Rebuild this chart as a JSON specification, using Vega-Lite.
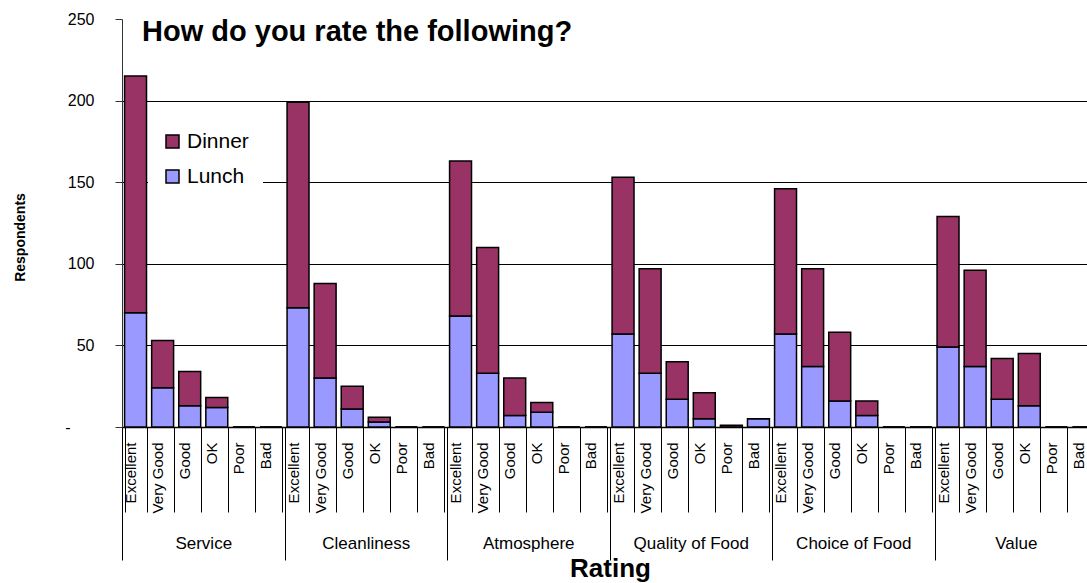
{
  "$schema": "https://vega.github.io/schema/vega-lite/v6.json",
  "autosize": {"type": "none"},
  "padding": {"left": 122, "top": 19, "right": 0, "bottom": 156},
  "width": 965,
  "height": 408,
  "background": "white",
  "config": {"font": "Liberation Sans", "view": {"stroke": null}},
  "title": {
    "text": "How do you rate the following?",
    "anchor": "start",
    "frame": "group",
    "offset": -59,
    "dx": 20,
    "font": "Liberation Sans",
    "fontSize": 29,
    "fontWeight": "bold",
    "color": "black",
    "baseline": "alphabetic"
  },
  "data": {
    "values": [
      {"cat": "Service", "rating": "Excellent", "slot": "Service|Excellent", "meal": "Lunch", "n": 70},
      {"cat": "Service", "rating": "Excellent", "slot": "Service|Excellent", "meal": "Dinner", "n": 145},
      {"cat": "Service", "rating": "Very Good", "slot": "Service|Very Good", "meal": "Lunch", "n": 24},
      {"cat": "Service", "rating": "Very Good", "slot": "Service|Very Good", "meal": "Dinner", "n": 29},
      {"cat": "Service", "rating": "Good", "slot": "Service|Good", "meal": "Lunch", "n": 13},
      {"cat": "Service", "rating": "Good", "slot": "Service|Good", "meal": "Dinner", "n": 21},
      {"cat": "Service", "rating": "OK", "slot": "Service|OK", "meal": "Lunch", "n": 12},
      {"cat": "Service", "rating": "OK", "slot": "Service|OK", "meal": "Dinner", "n": 6},
      {"cat": "Service", "rating": "Poor", "slot": "Service|Poor", "meal": "Lunch", "n": 0},
      {"cat": "Service", "rating": "Poor", "slot": "Service|Poor", "meal": "Dinner", "n": 0},
      {"cat": "Service", "rating": "Bad", "slot": "Service|Bad", "meal": "Lunch", "n": 0},
      {"cat": "Service", "rating": "Bad", "slot": "Service|Bad", "meal": "Dinner", "n": 0},
      {"cat": "Cleanliness", "rating": "Excellent", "slot": "Cleanliness|Excellent", "meal": "Lunch", "n": 73},
      {"cat": "Cleanliness", "rating": "Excellent", "slot": "Cleanliness|Excellent", "meal": "Dinner", "n": 126},
      {"cat": "Cleanliness", "rating": "Very Good", "slot": "Cleanliness|Very Good", "meal": "Lunch", "n": 30},
      {"cat": "Cleanliness", "rating": "Very Good", "slot": "Cleanliness|Very Good", "meal": "Dinner", "n": 58},
      {"cat": "Cleanliness", "rating": "Good", "slot": "Cleanliness|Good", "meal": "Lunch", "n": 11},
      {"cat": "Cleanliness", "rating": "Good", "slot": "Cleanliness|Good", "meal": "Dinner", "n": 14},
      {"cat": "Cleanliness", "rating": "OK", "slot": "Cleanliness|OK", "meal": "Lunch", "n": 3},
      {"cat": "Cleanliness", "rating": "OK", "slot": "Cleanliness|OK", "meal": "Dinner", "n": 3},
      {"cat": "Cleanliness", "rating": "Poor", "slot": "Cleanliness|Poor", "meal": "Lunch", "n": 0},
      {"cat": "Cleanliness", "rating": "Poor", "slot": "Cleanliness|Poor", "meal": "Dinner", "n": 0},
      {"cat": "Cleanliness", "rating": "Bad", "slot": "Cleanliness|Bad", "meal": "Lunch", "n": 0},
      {"cat": "Cleanliness", "rating": "Bad", "slot": "Cleanliness|Bad", "meal": "Dinner", "n": 0},
      {"cat": "Atmosphere", "rating": "Excellent", "slot": "Atmosphere|Excellent", "meal": "Lunch", "n": 68},
      {"cat": "Atmosphere", "rating": "Excellent", "slot": "Atmosphere|Excellent", "meal": "Dinner", "n": 95},
      {"cat": "Atmosphere", "rating": "Very Good", "slot": "Atmosphere|Very Good", "meal": "Lunch", "n": 33},
      {"cat": "Atmosphere", "rating": "Very Good", "slot": "Atmosphere|Very Good", "meal": "Dinner", "n": 77},
      {"cat": "Atmosphere", "rating": "Good", "slot": "Atmosphere|Good", "meal": "Lunch", "n": 7},
      {"cat": "Atmosphere", "rating": "Good", "slot": "Atmosphere|Good", "meal": "Dinner", "n": 23},
      {"cat": "Atmosphere", "rating": "OK", "slot": "Atmosphere|OK", "meal": "Lunch", "n": 9},
      {"cat": "Atmosphere", "rating": "OK", "slot": "Atmosphere|OK", "meal": "Dinner", "n": 6},
      {"cat": "Atmosphere", "rating": "Poor", "slot": "Atmosphere|Poor", "meal": "Lunch", "n": 0},
      {"cat": "Atmosphere", "rating": "Poor", "slot": "Atmosphere|Poor", "meal": "Dinner", "n": 0},
      {"cat": "Atmosphere", "rating": "Bad", "slot": "Atmosphere|Bad", "meal": "Lunch", "n": 0},
      {"cat": "Atmosphere", "rating": "Bad", "slot": "Atmosphere|Bad", "meal": "Dinner", "n": 0},
      {"cat": "Quality of Food", "rating": "Excellent", "slot": "Quality of Food|Excellent", "meal": "Lunch", "n": 57},
      {"cat": "Quality of Food", "rating": "Excellent", "slot": "Quality of Food|Excellent", "meal": "Dinner", "n": 96},
      {"cat": "Quality of Food", "rating": "Very Good", "slot": "Quality of Food|Very Good", "meal": "Lunch", "n": 33},
      {"cat": "Quality of Food", "rating": "Very Good", "slot": "Quality of Food|Very Good", "meal": "Dinner", "n": 64},
      {"cat": "Quality of Food", "rating": "Good", "slot": "Quality of Food|Good", "meal": "Lunch", "n": 17},
      {"cat": "Quality of Food", "rating": "Good", "slot": "Quality of Food|Good", "meal": "Dinner", "n": 23},
      {"cat": "Quality of Food", "rating": "OK", "slot": "Quality of Food|OK", "meal": "Lunch", "n": 5},
      {"cat": "Quality of Food", "rating": "OK", "slot": "Quality of Food|OK", "meal": "Dinner", "n": 16},
      {"cat": "Quality of Food", "rating": "Poor", "slot": "Quality of Food|Poor", "meal": "Lunch", "n": 0},
      {"cat": "Quality of Food", "rating": "Poor", "slot": "Quality of Food|Poor", "meal": "Dinner", "n": 1},
      {"cat": "Quality of Food", "rating": "Bad", "slot": "Quality of Food|Bad", "meal": "Lunch", "n": 5},
      {"cat": "Quality of Food", "rating": "Bad", "slot": "Quality of Food|Bad", "meal": "Dinner", "n": 0},
      {"cat": "Choice of Food", "rating": "Excellent", "slot": "Choice of Food|Excellent", "meal": "Lunch", "n": 57},
      {"cat": "Choice of Food", "rating": "Excellent", "slot": "Choice of Food|Excellent", "meal": "Dinner", "n": 89},
      {"cat": "Choice of Food", "rating": "Very Good", "slot": "Choice of Food|Very Good", "meal": "Lunch", "n": 37},
      {"cat": "Choice of Food", "rating": "Very Good", "slot": "Choice of Food|Very Good", "meal": "Dinner", "n": 60},
      {"cat": "Choice of Food", "rating": "Good", "slot": "Choice of Food|Good", "meal": "Lunch", "n": 16},
      {"cat": "Choice of Food", "rating": "Good", "slot": "Choice of Food|Good", "meal": "Dinner", "n": 42},
      {"cat": "Choice of Food", "rating": "OK", "slot": "Choice of Food|OK", "meal": "Lunch", "n": 7},
      {"cat": "Choice of Food", "rating": "OK", "slot": "Choice of Food|OK", "meal": "Dinner", "n": 9},
      {"cat": "Choice of Food", "rating": "Poor", "slot": "Choice of Food|Poor", "meal": "Lunch", "n": 0},
      {"cat": "Choice of Food", "rating": "Poor", "slot": "Choice of Food|Poor", "meal": "Dinner", "n": 0},
      {"cat": "Choice of Food", "rating": "Bad", "slot": "Choice of Food|Bad", "meal": "Lunch", "n": 0},
      {"cat": "Choice of Food", "rating": "Bad", "slot": "Choice of Food|Bad", "meal": "Dinner", "n": 0},
      {"cat": "Value", "rating": "Excellent", "slot": "Value|Excellent", "meal": "Lunch", "n": 49},
      {"cat": "Value", "rating": "Excellent", "slot": "Value|Excellent", "meal": "Dinner", "n": 80},
      {"cat": "Value", "rating": "Very Good", "slot": "Value|Very Good", "meal": "Lunch", "n": 37},
      {"cat": "Value", "rating": "Very Good", "slot": "Value|Very Good", "meal": "Dinner", "n": 59},
      {"cat": "Value", "rating": "Good", "slot": "Value|Good", "meal": "Lunch", "n": 17},
      {"cat": "Value", "rating": "Good", "slot": "Value|Good", "meal": "Dinner", "n": 25},
      {"cat": "Value", "rating": "OK", "slot": "Value|OK", "meal": "Lunch", "n": 13},
      {"cat": "Value", "rating": "OK", "slot": "Value|OK", "meal": "Dinner", "n": 32},
      {"cat": "Value", "rating": "Poor", "slot": "Value|Poor", "meal": "Lunch", "n": 0},
      {"cat": "Value", "rating": "Poor", "slot": "Value|Poor", "meal": "Dinner", "n": 0},
      {"cat": "Value", "rating": "Bad", "slot": "Value|Bad", "meal": "Lunch", "n": 0},
      {"cat": "Value", "rating": "Bad", "slot": "Value|Bad", "meal": "Dinner", "n": 0}
    ]
  },
  "layer": [
    {
      "mark": {"type": "bar", "stroke": "black", "strokeWidth": 1.5, "opacity": 1},
      "encoding": {
        "x": {
          "field": "slot",
          "type": "nominal",
          "sort": null,
          "scale": {"range": [0, 975], "paddingInner": 0.19, "paddingOuter": 0.095},
          "axis": {
            "orient": "bottom",
            "title": null,
            "labelExpr": "split(datum.value, '|')[1]",
            "labelAngle": -90,
            "labelAlign": "right",
            "labelBaseline": "alphabetic",
            "labelFont": "Liberation Sans",
            "labelFontSize": 15,
            "labelColor": "black",
            "labelPadding": -70,
            "labelOverlap": false,
            "labelBound": false,
            "labelFlush": false,
            "tickSize": 85,
            "tickBand": "extent",
            "tickColor": "black",
            "tickWidth": 1,
            "domainColor": "black",
            "domainWidth": 1.5
          }
        },
        "y": {
          "field": "n",
          "type": "quantitative",
          "stack": "zero",
          "scale": {"domain": [0, 250], "nice": false},
          "axis": {
            "title": "Respondents",
            "titleFont": "Liberation Sans",
            "titleFontWeight": "bold",
            "titleFontSize": 14,
            "titleColor": "black",
            "titleAngle": -90,
            "titleX": -98,
            "titleY": 218,
            "titleAlign": "center",
            "titleBaseline": "alphabetic",
            "values": [0, 50, 100, 150, 200, 250],
            "labelExpr": "datum.value === 0 ? '-' : datum.label",
            "labelFont": "Liberation Sans",
            "labelFontSize": 16,
            "labelColor": "black",
            "labelPadding": {"condition": {"test": "datum.value === 0", "value": 45}, "value": 21},
            "tickSize": 7,
            "tickColor": "#333333",
            "domainColor": "#333333",
            "grid": true,
            "gridColor": "black",
            "gridWidth": 1,
            "gridOpacity": {"condition": {"test": "datum.value === 250 || datum.value === 0", "value": 0}, "value": 1}
          }
        },
        "color": {
          "field": "meal",
          "type": "nominal",
          "scale": {"domain": ["Dinner", "Lunch"], "range": ["#993366", "#9999FF"]},
          "legend": {
            "orient": "none",
            "legendX": 26,
            "legendY": 98,
            "title": null,
            "fillColor": "white",
            "padding": 14,
            "symbolType": "square",
            "symbolSize": 169,
            "symbolStrokeColor": "black",
            "symbolStrokeWidth": 1.5,
            "symbolOpacity": 1,
            "labelFont": "Liberation Sans",
            "labelFontSize": 21,
            "labelColor": "black",
            "labelOffset": 4,
            "rowPadding": 13
          }
        },
        "order": {"field": "meal", "sort": "descending"}
      }
    },
    {
      "mark": {"type": "rule", "opacity": 0},
      "encoding": {
        "x": {
          "field": "cat",
          "type": "nominal",
          "sort": null,
          "scale": {"range": [0, 975], "paddingInner": 0, "paddingOuter": 0},
          "axis": {
            "orient": "bottom",
            "title": "Rating",
            "titleFont": "Liberation Sans",
            "titleFontSize": 26,
            "titleFontWeight": "bold",
            "titleColor": "black",
            "titleX": 488,
            "titleY": 149,
            "titleAlign": "center",
            "titleBaseline": "alphabetic",
            "labelAngle": 0,
            "labelAlign": "center",
            "labelBaseline": "middle",
            "labelFont": "Liberation Sans",
            "labelFontSize": 17,
            "labelColor": "black",
            "labelPadding": -17,
            "labelOverlap": false,
            "labelBound": false,
            "labelFlush": false,
            "tickSize": 133,
            "tickBand": "extent",
            "tickColor": "black",
            "tickWidth": 1,
            "domain": false
          }
        }
      }
    }
  ],
  "resolve": {"scale": {"x": "independent"}, "axis": {"x": "independent"}}
}
